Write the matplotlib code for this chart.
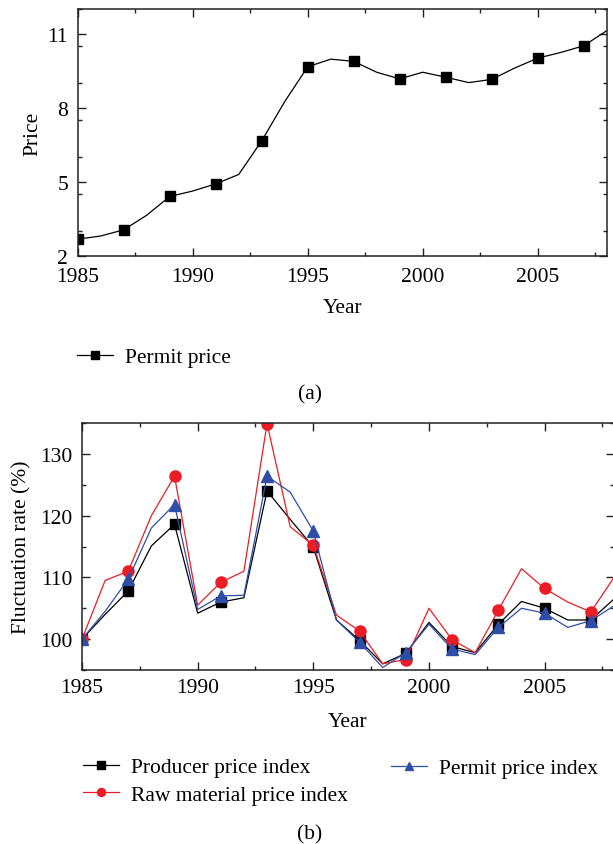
import numpy as np
import matplotlib
matplotlib.use("Agg")
import matplotlib.pyplot as plt
from matplotlib.ticker import MultipleLocator

plt.rcParams['font.family'] = ['Liberation Serif', 'DejaVu Serif']

# data
years = list(range(1985, 2009))
permit_price = [2.68, 2.81, 3.06, 3.65, 4.41, 4.63, 4.92, 5.30, 6.66, 8.25,
                9.66, 9.97, 9.88, 9.44, 9.17, 9.44, 9.24, 9.02, 9.15, 9.61,
                10.01, 10.24, 10.51, 11.12]

producer_idx = [100.0, 104.0, 107.8, 115.1, 118.6, 104.2, 106.0, 106.7, 124.0, 119.4,
                114.9, 103.1, 99.8, 96.0, 97.7, 102.7, 98.8, 97.8, 102.4, 106.1,
                105.0, 103.1, 103.1, 106.5]
raw_idx = [100.0, 109.5, 111.0, 120.0, 126.4, 105.5, 109.2, 111.0, 134.9, 118.2,
           115.2, 103.9, 101.3, 96.0, 96.7, 105.0, 99.9, 97.8, 104.7, 111.4,
           108.2, 106.0, 104.4, 110.0]
permit_idx = [100.0, 104.5, 109.7, 118.0, 121.8, 104.8, 107.0, 107.1, 126.4, 123.8,
              117.5, 103.1, 99.5, 95.4, 97.8, 102.4, 98.4, 97.5, 101.9, 105.0,
              104.2, 101.9, 103.0, 105.4]

W, H = 613, 845
fig = plt.figure(figsize=(W / 100, H / 100), dpi=100)
FS = 15.5
RED = '#ec1c24'
BLUE = '#2e4da7'


def box(l, t, r, b):
    return [l / W, 1 - b / H, (r - l) / W, (b - t) / H]


def style(ax, ymaj, ymin, xpad):
    ax.xaxis.set_major_locator(MultipleLocator(5))
    ax.xaxis.set_minor_locator(MultipleLocator(2.5))
    ax.yaxis.set_major_locator(MultipleLocator(ymaj))
    ax.yaxis.set_minor_locator(MultipleLocator(ymin))
    ax.tick_params(which='both', direction='in', top=True, right=True,
                   labelsize=FS, width=1, color='#222222')
    ax.tick_params(which='major', length=6)
    ax.tick_params(which='minor', length=3)
    ax.tick_params(axis='x', pad=xpad)
    ax.tick_params(axis='y', pad=7)
    for s in ax.spines.values():
        s.set_linewidth(1.1)
        s.set_color('#222222')


leg_kw = dict(frameon=False, fontsize=FS, borderpad=0, borderaxespad=0,
              handlelength=1.67, handletextpad=0.56, markerscale=0.72)

# (a) permit price
ax1 = fig.add_axes(box(77.7, 10, 606.7, 257))
ax1.plot(years, permit_price, color='black', lw=0.9, marker='s', ms=7.4,
         markevery=2, label='Permit price')
ax1.set_xlim(1985, 2008)
ax1.set_ylim(2, 12)
style(ax1, 3, 1.5, 8)
ax1.set_yticks([2, 5, 8, 11])
ax1.set_xlabel('Year', fontsize=FS)
ax1.xaxis.set_label_coords(0.5, -0.17)
ax1.set_ylabel('Price', fontsize=FS)
ax1.yaxis.set_label_coords(-0.067, 0.5)

h, l = ax1.get_legend_handles_labels()
fig.legend(h, l, loc='center left', bbox_to_anchor=(77 / W, 1 - 358 / H), **leg_kw)
fig.text(310 / W, 1 - 395 / H, '(a)', ha='center', va='center', fontsize=FS)

# (b) fluctuation rates
ax2 = fig.add_axes(box(82, 424, 614, 671))
ax2.plot(years, producer_idx, color='black', lw=0.9, marker='s', ms=7.4,
         markevery=2, label='Producer price index')
ax2.plot(years, raw_idx, color=RED, lw=0.9, marker='o', ms=8,
         markevery=2, label='Raw material price index')
ax2.plot(years, permit_idx, color=BLUE, lw=0.9, marker='^', ms=8.5,
         markevery=2, label='Permit price index')
ax2.set_xlim(1985, 2008)
ax2.set_ylim(95, 135)
style(ax2, 10, 5, 6)
ax2.set_yticks([100, 110, 120, 130])
ax2.set_xlabel('Year', fontsize=FS)
ax2.xaxis.set_label_coords(0.5, -0.17)
ax2.set_ylabel('Fluctuation rate (%)', fontsize=FS)
ax2.yaxis.set_label_coords(-0.095, 0.5)

h, l = ax2.get_legend_handles_labels()
fig.legend(h[:2], l[:2], loc='center left', bbox_to_anchor=(83 / W, 1 - 782 / H),
           labelspacing=0.35, **leg_kw)
fig.legend(h[2:], l[2:], loc='center left', bbox_to_anchor=(391 / W, 1 - 769 / H),
           **leg_kw)
fig.text(310 / W, 1 - 835 / H, '(b)', ha='center', va='center', fontsize=FS)

fig.savefig('out.png', dpi=100)
